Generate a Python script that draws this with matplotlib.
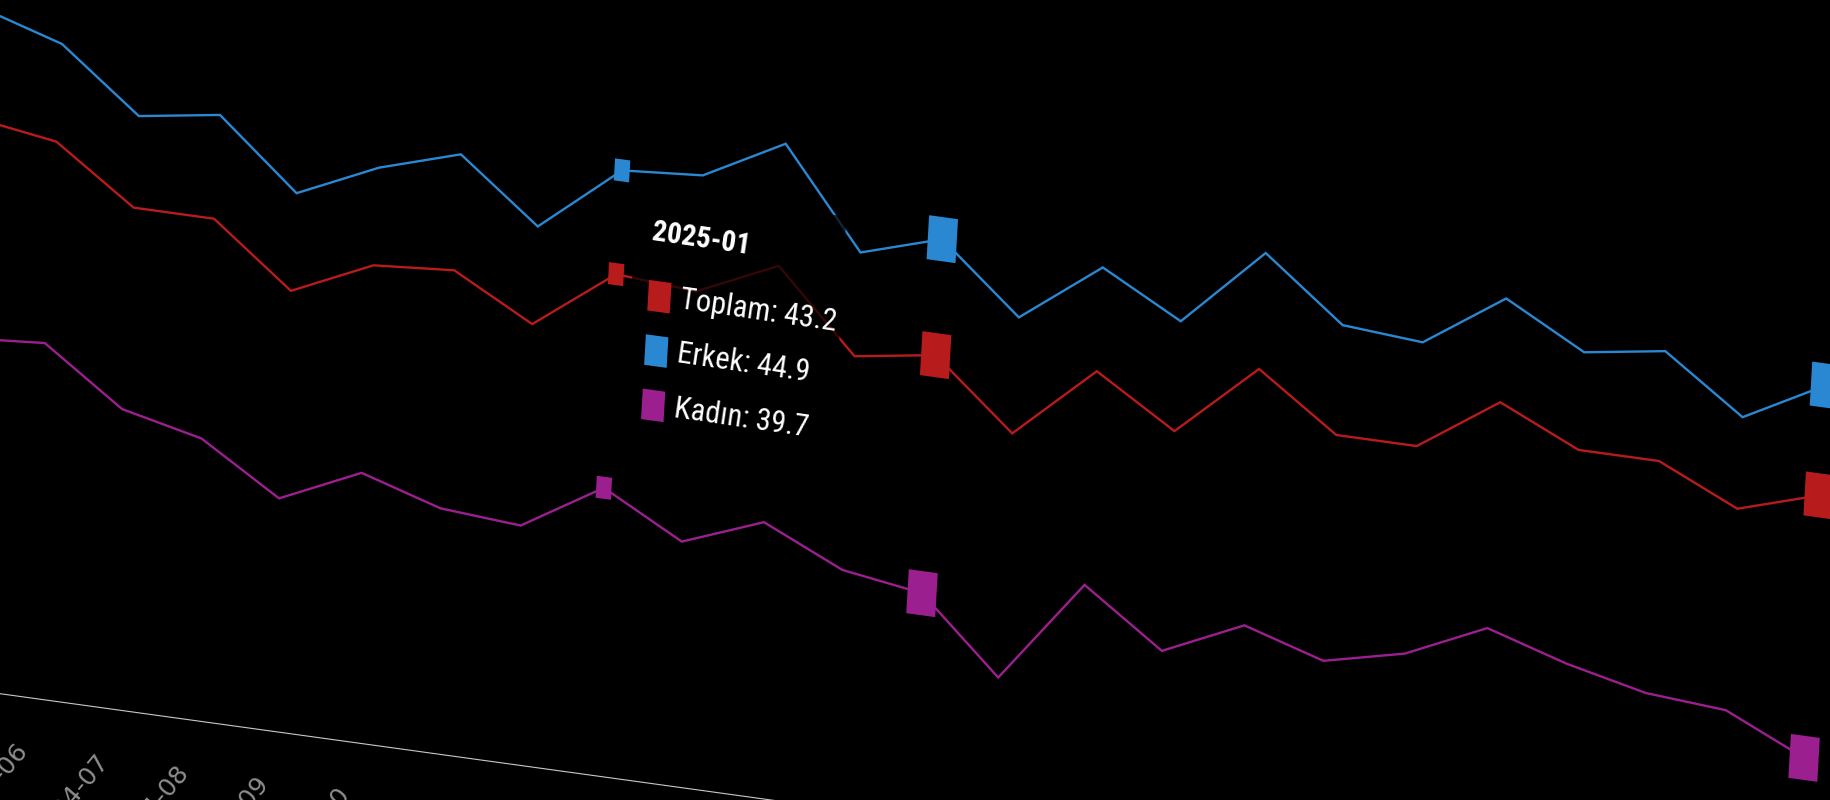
import numpy as np
import matplotlib
matplotlib.use("Agg")
import matplotlib.pyplot as plt
from matplotlib import font_manager
from matplotlib.patches import Rectangle
from matplotlib.transforms import Affine2D

# monthly series, 2024-05 .. 2026-04
months = ["2024-05", "2024-06", "2024-07", "2024-08", "2024-09", "2024-10",
          "2024-11", "2024-12", "2025-01", "2025-02", "2025-03", "2025-04",
          "2025-05", "2025-06", "2025-07", "2025-08", "2025-09", "2025-10",
          "2025-11", "2025-12", "2026-01", "2026-02", "2026-03", "2026-04"]
toplam = [44.3, 44.1, 43.2, 43.2, 42.2, 42.8, 42.9, 42.2, 43.2, 43.1, 43.7, 42.4,
          42.6, 41.5, 42.7, 41.9, 43.1, 42.2, 42.2, 43.1, 42.5, 42.5, 41.9, 42.3]
erkek = [46.1, 45.7, 44.7, 44.9, 43.8, 44.4, 44.8, 43.8, 44.9, 45.0, 45.7, 44.1,
         44.5, 43.4, 44.4, 43.7, 45.0, 44.0, 43.9, 44.8, 44.1, 44.3, 43.4, 44.1]
kadin = [40.7, 40.8, 39.9, 39.6, 38.8, 39.4, 39.0, 38.9, 39.7, 39.0, 39.5, 38.9,
         38.7, 37.5, 39.2, 38.3, 38.9, 38.5, 38.8, 39.4, 39.0, 38.7, 38.6, 38.0]

series = [("Toplam", toplam, "#b81b1b"),
          ("Erkek", erkek, "#2a88d2"),
          ("Kadın", kadin, "#9c1f8f")]

hover = 8             # index of 2025-01, the point under the tooltip
big_marks = [12, 23]  # emphasised symbols
y_min = 35

# a condensed face for the tooltip if one is around
installed = {f.name for f in font_manager.fontManager.ttflist}
narrow = [n for n in ["Liberation Sans Narrow", "Roboto Condensed",
                      "Open Sans Condensed", "Noto Sans Condensed",
                      "DejaVu Sans Condensed"] if n in installed]
if narrow:
    tip_family, tip_scale = narrow + ["DejaVu Sans"], 1.0
else:
    tip_family, tip_scale = ["Liberation Sans", "DejaVu Sans"], 0.86

W, H = 1830, 800
fig = plt.figure(figsize=(W / 100, H / 100), dpi=100, facecolor="black")
ax = fig.add_axes([0, 0, 1, 1])
ax.set_facecolor("black")
ax.set_xlim(0, len(months) - 1)
ax.set_ylim(y_min, 48)
ax.axis("off")

# the screenshot is seen at an angle: map (index, value) onto the tilted plane
s = W / 1568.0
origin = np.array([533.0 * s, H - 146.0 * s])      # hover index, 44.9
step_i = np.array([68.9 * s, -9.5 * s])            # one month
step_v = np.array([3.0 * s, 52.3 * s])             # one unit of value
c0 = origin - hover * step_i - 44.9 * step_v
data_to_px = np.array([[step_i[0], step_v[0], c0[0]],
                       [step_i[1], step_v[1], c0[1]],
                       [0, 0, 1]])
flat = ax.transData.get_matrix()
view = ax.transData + Affine2D(data_to_px @ np.linalg.inv(flat))

x = np.arange(len(months))
for name, vals, col in series:
    ax.plot(x, vals, color=col, lw=1.7, transform=view, zorder=2,
            solid_joinstyle="miter")
    for k, (w, h) in [(hover, (0.19, 0.36))] + [(b, (0.36, 0.72)) for b in big_marks]:
        ax.add_patch(Rectangle((x[k] - w / 2, vals[k] - h / 2), w, h,
                               facecolor=col, edgecolor="none",
                               transform=view, zorder=3))

# x axis line and rotated month labels
ax.plot([-2, len(months) + 5], [y_min, y_min], color="#c8c8c8", lw=0.8,
        transform=view, zorder=1)
for k, lab in enumerate(months):
    ax.text(x[k] + 0.02, y_min - 0.8, lab, transform=view, rotation=50,
            rotation_mode="anchor", ha="right", va="center",
            color="#8e8e8e", fontsize=18, family=["DejaVu Sans"],
            clip_on=False)

# tooltip
ax.add_patch(Rectangle((hover + 0.2, 40.3), 2.6, 4.35, facecolor="black",
                       edgecolor="none", alpha=0.72, transform=view, zorder=4))
ax.text(hover + 0.40, 43.84, months[hover], transform=view, rotation=-8.3,
        rotation_mode="anchor", ha="left", va="baseline", color="white",
        fontsize=21 * tip_scale, fontweight="bold", family=tip_family, zorder=5)
for row, (name, vals, col) in enumerate(series):
    base = 42.79 - 0.89 * row
    ax.add_patch(Rectangle((hover + 0.41, base - 0.11), 0.28, 0.5,
                           facecolor=col, edgecolor="none",
                           transform=view, zorder=5))
    ax.text(hover + 0.80, base, f"{name}: {vals[hover]}", transform=view,
            rotation=-8.3, rotation_mode="anchor", ha="left", va="baseline",
            color="white", fontsize=22 * tip_scale, family=tip_family, zorder=5)

fig.savefig("out.png", dpi=100, facecolor="black")
